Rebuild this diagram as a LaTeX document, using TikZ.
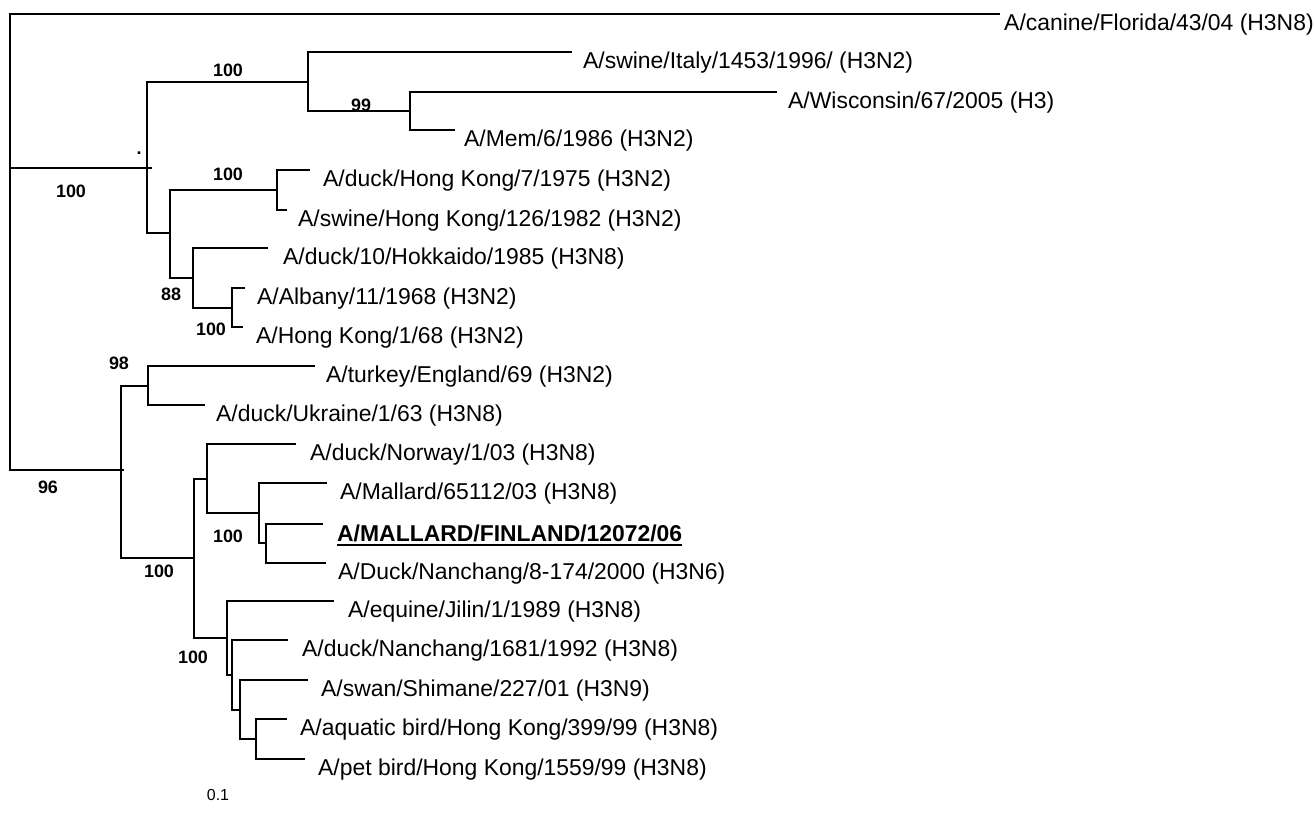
\documentclass[tikz,border=0pt]{standalone}
\usepackage{fontspec}
\setmainfont{Liberation Sans}
\begin{document}
\begin{tikzpicture}[x=1bp,y=-1bp,
  br/.style={line width=2bp, line join=miter},
  tx/.style={anchor=base west, inner sep=0pt, font=\fontsize{23}{27}\selectfont},
  bs/.style={anchor=base, inner sep=0pt, font=\fontsize{18}{21}\selectfont\bfseries},
  sc/.style={anchor=base, inner sep=0pt, font=\fontsize{16}{19}\selectfont}]
\useasboundingbox (0,0) rectangle (1315,814);
% internal nodes
\coordinate (r) at (10,168);
\coordinate (n1) at (147,168);
\coordinate (n1s) at (152,168);
\coordinate (n1a) at (308,82);
\coordinate (n1a2) at (410,111);
\coordinate (n1b) at (170,233);
\coordinate (n1b1) at (277,190);
\coordinate (n1b2) at (193,278);
\coordinate (n1b22) at (232,308);
\coordinate (n2) at (121,470);
\coordinate (n2s) at (124,470);
\coordinate (n2a) at (148,386);
\coordinate (n2b) at (194,558);
\coordinate (n2b1) at (207,479);
\coordinate (n2b12) at (259,513);
\coordinate (n2b122) at (266,543);
\coordinate (n2b2) at (227,638);
\coordinate (n2b22) at (232,675);
\coordinate (n2b222) at (240,710);
\coordinate (n2b2222) at (256,739);
% leaf ends
\coordinate (ecan) at (1000,14);
\coordinate (eita) at (572,52);
\coordinate (ewis) at (777,92);
\coordinate (emem) at (455,130);
\coordinate (edhk) at (310,170);
\coordinate (eshk) at (287,210);
\coordinate (ehok) at (268,248);
\coordinate (ealb) at (245,288);
\coordinate (ehk) at (243,327);
\coordinate (etur) at (315,366);
\coordinate (eukr) at (205,405);
\coordinate (enor) at (296,444);
\coordinate (emal) at (327,483);
\coordinate (efin) at (323,524);
\coordinate (enan) at (326,563);
\coordinate (eequ) at (334,601);
\coordinate (enan2) at (288,640);
\coordinate (eswa) at (308,680);
\coordinate (eaqu) at (287,719);
\coordinate (epet) at (305,759);
% branches
\draw[br] (r) |- (ecan) (r) |- (n1s) (r) |- (n2s);
\draw[br] (n1) |- (n1a) (n1) |- (n1b);
\draw[br] (n1a) |- (eita) (n1a) |- (n1a2);
\draw[br] (n1a2) |- (ewis) (n1a2) |- (emem);
\draw[br] (n1b) |- (n1b1) (n1b) |- (n1b2);
\draw[br] (n1b1) |- (edhk) (n1b1) |- (eshk);
\draw[br] (n1b2) |- (ehok) (n1b2) |- (n1b22);
\draw[br] (n1b22) |- (ealb) (n1b22) |- (ehk);
\draw[br] (n2) |- (n2a) (n2) |- (n2b);
\draw[br] (n2a) |- (etur) (n2a) |- (eukr);
\draw[br] (n2b) |- (n2b1) (n2b) |- (n2b2);
\draw[br] (n2b1) |- (enor) (n2b1) |- (n2b12);
\draw[br] (n2b12) |- (emal) (n2b12) |- (n2b122);
\draw[br] (n2b122) |- (efin) (n2b122) |- (enan);
\draw[br] (n2b2) |- (eequ) (n2b2) |- (n2b22);
\draw[br] (n2b22) |- (enan2) (n2b22) |- (n2b222);
\draw[br] (n2b222) |- (eswa) (n2b222) |- (n2b2222);
\draw[br] (n2b2222) |- (eaqu) (n2b2222) |- (epet);
% leaf labels
\node[tx] (lcan) at (1004,30.5) {A/canine/Florida/43/04 (H3N8)};
\node[tx] (lita) at (583,68.5) {A/swine/Italy/1453/1996/ (H3N2)};
\node[tx] (lwis) at (788,108.5) {A/Wisconsin/67/2005 (H3)};
\node[tx] (lmem) at (464,146.5) {A/Mem/6/1986 (H3N2)};
\node[tx] (ldhk) at (323,186.5) {A/duck/Hong Kong/7/1975 (H3N2)};
\node[tx] (lshk) at (298,226.5) {A/swine/Hong Kong/126/1982 (H3N2)};
\node[tx] (lhok) at (283,264.5) {A/duck/10/Hokkaido/1985 (H3N8)};
\node[tx] (lalb) at (257,304.5) {A/Albany/11/1968 (H3N2)};
\node[tx] (lhk) at (256,343.5) {A/Hong Kong/1/68 (H3N2)};
\node[tx] (ltur) at (326,382.5) {A/turkey/England/69 (H3N2)};
\node[tx] (lukr) at (216,421.5) {A/duck/Ukraine/1/63 (H3N8)};
\node[tx] (lnor) at (310,460.5) {A/duck/Norway/1/03 (H3N8)};
\node[tx] (lmal) at (340,499.5) {A/Mallard/65112/03 (H3N8)};
\node[tx,font=\fontsize{23}{27}\selectfont\bfseries] (lfin) at (337,541) {A/MALLARD/FINLAND/12072/06};
\draw[line width=2bp] ([yshift=-3.5bp]lfin.base west) -- ([yshift=-3.5bp]lfin.base east);
\node[tx] (lnan) at (338,579.5) {A/Duck/Nanchang/8-174/2000 (H3N6)};
\node[tx] (lequ) at (348,617.5) {A/equine/Jilin/1/1989 (H3N8)};
\node[tx] (lnan2) at (302,656.5) {A/duck/Nanchang/1681/1992 (H3N8)};
\node[tx] (lswa) at (321,696.5) {A/swan/Shimane/227/01 (H3N9)};
\node[tx] (laqu) at (300,735.5) {A/aquatic bird/Hong Kong/399/99 (H3N8)};
\node[tx] (lpet) at (318,775.5) {A/pet bird/Hong Kong/1559/99 (H3N8)};
% bootstrap values
\node[bs] (b1) at (228,76) {100};
\node[bs] (b2) at (361,111) {99};
\node[bs] (bdot) at (139,154) {.};
\node[bs] (b3) at (228,180) {100};
\node[bs] (b4) at (71,197) {100};
\node[bs] (b5) at (171,300) {88};
\node[bs] (b6) at (211,335) {100};
\node[bs] (b7) at (119,369) {98};
\node[bs] (b8) at (48,493) {96};
\node[bs] (b9) at (228,542) {100};
\node[bs] (b10) at (159,577) {100};
\node[bs] (b11) at (193,663) {100};
\node[sc] (scale) at (218,800) {0.1};
\end{tikzpicture}
\end{document}
